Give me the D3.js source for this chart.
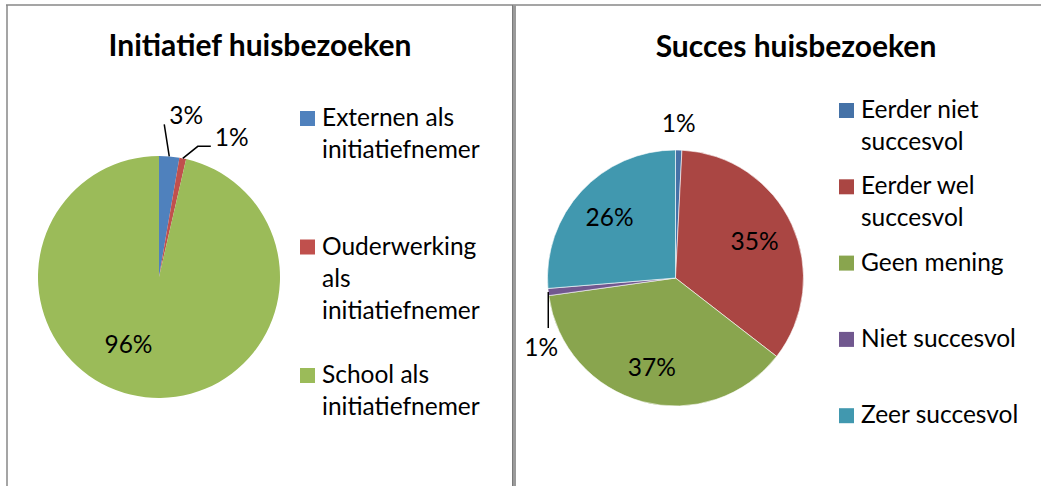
<!DOCTYPE html>
<html>
<head>
<meta charset="utf-8">
<script src="https://cdn.jsdelivr.net/npm/d3@7"></script>
<style>
  body { margin: 0; background: #fff; }
  svg { display: block; font-family: Lato, "Open Sans", sans-serif; }
</style>
</head>
<body>
<svg id="chart" width="1041" height="486"></svg>
<script>
// data (share of answers)
const initiatiefCategories = ['Externen als initiatiefnemer', 'Ouderwerking als initiatiefnemer', 'School als initiatiefnemer'];
const initiatiefValues = [2.7, 0.9, 96.4];
const initiatiefColors = ['#4F81BD', '#C0504D', '#9BBB59'];

const succesCategories = ['Eerder niet succesvol', 'Eerder wel succesvol', 'Geen mening', 'Niet succesvol', 'Zeer succesvol'];
const succesValues = [0.8, 34.7, 37.3, 0.9, 26.3];
const succesColors = ['#4572A7', '#AA4643', '#89A54E', '#71588F', '#4198AF'];

const svg = d3.select('#chart');

// panel frames
svg.append('rect').attr('x', 0).attr('y', 0).attr('width', 1041).attr('height', 486).attr('fill', '#fff');
svg.append('line').attr('x1', 6).attr('x2', 1041).attr('y1', 5).attr('y2', 5)
  .attr('stroke', '#878787').attr('stroke-width', 1.5);
svg.append('line').attr('x1', 7).attr('x2', 7).attr('y1', 5).attr('y2', 486)
  .attr('stroke', '#878787').attr('stroke-width', 1.5);
svg.append('rect').attr('x', 512).attr('y', 5).attr('width', 4).attr('height', 481).attr('fill', '#9a9a9a');
svg.append('line').attr('x1', 512.5).attr('x2', 512.5).attr('y1', 5).attr('y2', 486)
  .attr('stroke', '#7a7a7a').attr('stroke-width', 1);

const fmt = v => Math.round(v) + '%';
const labelSize = 24.5;

// wrap a legend label into lines that fit maxW
function wrapLines(text, maxW, fontSize) {
  const probe = svg.append('text').attr('font-size', fontSize);
  const words = text.split(' ');
  const lines = [];
  let cur = '';
  words.forEach(w => {
    const test = cur ? cur + ' ' + w : w;
    probe.text(test);
    if (cur && probe.node().getComputedTextLength() > maxW) {
      lines.push(cur);
      cur = w;
    } else {
      cur = test;
    }
  });
  lines.push(cur);
  probe.remove();
  return lines;
}

function drawPie(cfg) {
  const g = svg.append('g');

  g.append('text')
    .attr('x', cfg.titleX).attr('y', cfg.titleY)
    .attr('text-anchor', 'middle')
    .attr('font-size', 30).attr('font-weight', 'bold')
    .text(cfg.title);

  const pie = d3.pie().sort(null).value(d => d);
  const arcs = pie(cfg.values);
  const arc = d3.arc().innerRadius(0).outerRadius(cfg.r);
  const edge = d3.arc().innerRadius(cfg.r).outerRadius(cfg.r);
  const color = d3.scaleOrdinal().domain(cfg.categories).range(cfg.colors);

  const pg = g.append('g').attr('transform', `translate(${cfg.cx},${cfg.cy})`);
  pg.selectAll('path')
    .data(arcs)
    .enter()
    .append('path')
    .attr('d', arc)
    .attr('fill', (d, i) => color(cfg.categories[i]))
    .attr('stroke', cfg.sliceStroke)
    .attr('stroke-width', 0.6);

  // percentage labels
  arcs.forEach((d, i) => {
    const lab = cfg.labels[i];
    const txt = fmt(d.data);
    if (lab.type === 'in') {
      const inner = d3.arc().innerRadius(0).outerRadius(cfg.r * lab.k * 2);
      const [x, y] = inner.centroid(d);
      pg.append('text')
        .attr('x', x + (lab.dx || 0)).attr('y', y + (lab.dy || 0))
        .attr('text-anchor', 'middle').attr('dy', '0.35em')
        .attr('font-size', labelSize)
        .text(txt);
    } else {
      const [ex, ey] = edge.centroid(d);
      const pts = [[ex, ey]].concat(lab.path.map(p => [ex + p[0], ey + p[1]]));
      if (lab.path.length) {
        pg.append('path')
          .attr('d', d3.line()(pts))
          .attr('fill', 'none').attr('stroke', '#000').attr('stroke-width', 1.5);
      }
      const end = pts[pts.length - 1];
      pg.append('text')
        .attr('x', end[0] + lab.tdx).attr('y', end[1] + lab.tdy)
        .attr('text-anchor', lab.anchor)
        .attr('font-size', labelSize)
        .text(txt);
    }
  });

  // legend
  const lg = g.append('g');
  cfg.categories.forEach((c, i) => {
    const y0 = cfg.legendY + i * cfg.legendStep;
    lg.append('rect')
      .attr('x', cfg.legendX).attr('y', y0 - 15)
      .attr('width', 15).attr('height', 15)
      .attr('fill', color(c));
    const lines = wrapLines(c, cfg.legendW, labelSize);
    const t = lg.append('text').attr('font-size', labelSize);
    lines.forEach((ln, j) => {
      t.append('tspan')
        .attr('x', cfg.legendX + 22).attr('y', y0 + j * 32)
        .text(ln);
    });
  });
}

drawPie({
  title: 'Initiatief huisbezoeken', titleX: 260, titleY: 56,
  categories: initiatiefCategories, values: initiatiefValues, colors: initiatiefColors,
  cx: 159, cy: 277, r: 121, sliceStroke: 'none',
  labels: [
    { type: 'out', path: [[-5, -32]], tdx: 5, tdy: 0, anchor: 'start' },
    { type: 'out', path: [[15, -12], [28, -12]], tdx: 4, tdy: 0, anchor: 'start' },
    { type: 'in', k: 0.7, dx: -21, dy: -17 }
  ],
  legendX: 300, legendY: 126, legendStep: 128.5, legendW: 172
});

drawPie({
  title: 'Succes huisbezoeken', titleX: 796, titleY: 57,
  categories: succesCategories, values: succesValues, colors: succesColors,
  cx: 675.5, cy: 278, r: 128, sliceStroke: '#fff',
  labels: [
    { type: 'out', path: [], tdx: 0, tdy: -18, anchor: 'middle' },
    { type: 'in', k: 0.68 },
    { type: 'in', k: 0.72 },
    { type: 'out', path: [[0, 36]], tdx: -7, tdy: 28, anchor: 'middle' },
    { type: 'in', k: 0.7 }
  ],
  legendX: 839, legendY: 118, legendStep: 76.3, legendW: 172
});
</script>
</body>
</html>
